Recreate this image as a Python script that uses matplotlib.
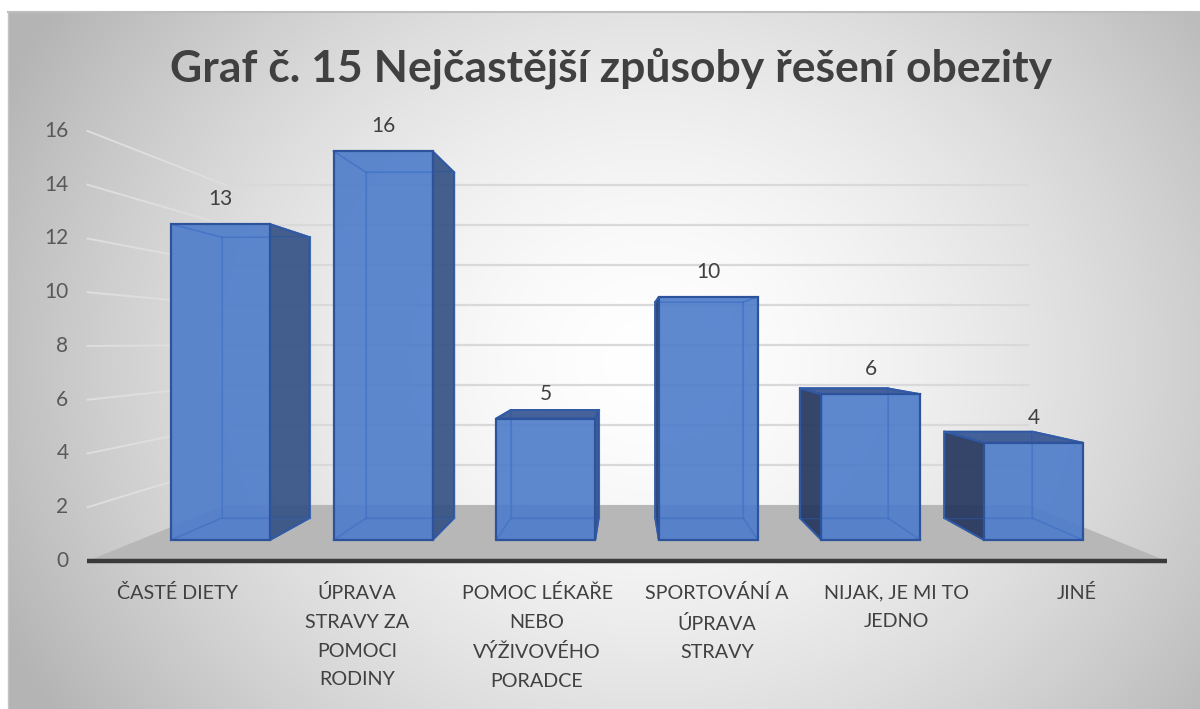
import numpy as np
import matplotlib
matplotlib.use("Agg")
import matplotlib.pyplot as plt
from matplotlib.patches import Polygon

plt.rcParams['font.family'] = ['Lato', 'DejaVu Sans']

# ---------------- data ----------------
title = "Graf č. 15 Nejčastější způsoby řešení obezity"
categories = ["ČASTÉ DIETY",
              "ÚPRAVA\nSTRAVY ZA\nPOMOCI\nRODINY",
              "POMOC LÉKAŘE\nNEBO\nVÝŽIVOVÉHO\nPORADCE",
              "SPORTOVÁNÍ A\nÚPRAVA\nSTRAVY",
              "NIJAK, JE MI TO\nJEDNO",
              "JINÉ"]
values = [13, 16, 5, 10, 6, 4]
y_ticks = [0, 2, 4, 6, 8, 10, 12, 14, 16]

# ---------------- geometry (perspective) ----------------
W, H = 1200, 709
PX0, PXS = 220.5, 162.6      # pixel x of category 0, pixels per category
PY0, PYS = 540.0, 24.3       # pixel y (from top) of value 0, pixels per unit
VX, VY = 2.5, 8.148          # vanishing point in data coords
S_FLOOR = 1.106              # depth scale of floor front edge
S_WALL = 0.823               # depth scale of back wall
S_BF, S_BB = 1.0, 0.889      # bar front / bar back
HW = 0.3044                  # half bar width (category units)


def proj(x, v, s):
    return (VX + (x - VX) * s, VY + (v - VY) * s)


fig = plt.figure(figsize=(W / 100, H / 100), dpi=100)
fig.patch.set_facecolor('white')

# background (radial gradient) for chart area
bx0, by0 = 8, 12
bg = fig.add_axes([bx0 / W, 0, (W - bx0) / W, (H - by0) / H])
yy, xx = np.mgrid[by0:H, bx0:W]
r = np.sqrt(((xx - 650) / 640.0) ** 2 + ((yy - 360) / 560.0) ** 2)
g = 255 - 62 * np.clip(r, 0, 1.3) ** 1.6
g = np.clip(g, 180, 255) / 255.0
bg.imshow(np.dstack([g, g, g]), aspect='auto', extent=(0, 1, 0, 1), origin='upper')
bg.set_xlim(0, 1); bg.set_ylim(0, 1)
bg.axis('off')
bg.plot([0, 1], [1, 1], color='#bdbdbd', lw=1.5, transform=bg.transAxes, clip_on=False)
bg.plot([0, 0], [0, 1], color='#c4c4c4', lw=1.0, transform=bg.transAxes, clip_on=False)

ax = fig.add_axes([0, 0, 1, 1])
ax.set_xlim((0 - PX0) / PXS, (W - PX0) / PXS)
ax.set_ylim((PY0 - H) / PYS, PY0 / PYS)
ax.patch.set_alpha(0)
ax.axis('off')

n = len(values)
xl, xr = -0.5, n - 0.5

# floor
floor = [proj(xl, 0, S_FLOOR), proj(xr, 0, S_FLOOR), proj(xr, 0, S_WALL), proj(xl, 0, S_WALL)]
ax.add_patch(Polygon(floor, closed=True, facecolor='#b7b7b7', edgecolor='none', zorder=1))

# gridlines: back wall and left side wall
for t in y_ticks[1:]:
    p1, p2 = proj(xl, t, S_WALL), proj(xr, t, S_WALL)
    ax.plot([p1[0], p2[0]], [p1[1], p2[1]], color='#d9d9d9', lw=1.6, zorder=2)
    q1 = proj(xl, t, S_FLOOR)
    ax.plot([q1[0], p1[0]], [q1[1], p1[1]], color='#dedede', lw=1.4, zorder=2)

# axis line (floor front edge)
a1, a2 = proj(xl, 0, S_FLOOR), proj(xr, 0, S_FLOOR)
ax.plot([a1[0], a2[0]], [a1[1], a2[1]], color='#3a3a3a', lw=3.2, zorder=3,
        solid_capstyle='butt')

# y tick labels
for t in y_ticks:
    p = proj(xl, t, S_FLOOR)
    ax.annotate(str(t), xy=p, xytext=(-19, 0), textcoords='offset pixels',
                ha='right', va='center', fontsize=15, color='#595959', zorder=5)

# category labels
for i, c in enumerate(categories):
    p = proj(i, 0, S_FLOOR)
    ax.annotate(c, xy=p, xytext=(0, -23), textcoords='offset pixels',
                ha='center', va='top', fontsize=14.2, color='#404040',
                linespacing=1.84, zorder=5)

FRONT = '#4d7cca'
SIDE_R = '#355285'
SIDE_L = '#25375e'
TOP = '#365592'
EDGE = '#2c539c'
INNER = '#3d6cc0'

for i, v in enumerate(values):
    x0, x1 = i - HW, i + HW
    FL0, FR0, FR1, FL1 = proj(x0, 0, S_BF), proj(x1, 0, S_BF), proj(x1, v, S_BF), proj(x0, v, S_BF)
    BL0, BR0, BR1, BL1 = proj(x0, 0, S_BB), proj(x1, 0, S_BB), proj(x1, v, S_BB), proj(x0, v, S_BB)

    # hidden edges (seen through translucent bar)
    hidden = [(BL0, BR0), (BR0, BR1), (BR1, BL1), (BL1, BL0),
              (FL0, BL0), (FR0, BR0), (FL1, BL1), (FR1, BR1)]
    for a, b in hidden:
        ax.plot([a[0], b[0]], [a[1], b[1]], color=INNER, lw=1.2, zorder=6, alpha=0.9)

    left_vis = x0 > VX
    right_vis = x1 < VX
    top_vis = v < VY

    if right_vis:
        ax.add_patch(Polygon([FR0, BR0, BR1, FR1], closed=True, facecolor=SIDE_R, alpha=0.92,
                             edgecolor=EDGE, lw=1.4, zorder=7))
    if left_vis:
        ax.add_patch(Polygon([FL0, BL0, BL1, FL1], closed=True, facecolor=SIDE_L, alpha=0.92,
                             edgecolor=EDGE, lw=1.4, zorder=7))
    if top_vis:
        ax.add_patch(Polygon([FL1, FR1, BR1, BL1], closed=True, facecolor=TOP, alpha=0.92,
                             edgecolor=EDGE, lw=1.4, zorder=7))
    ax.add_patch(Polygon([FL0, FR0, FR1, FL1], closed=True, facecolor=FRONT, alpha=0.9,
                         edgecolor='none', zorder=8))
    for a, b in hidden:
        ax.plot([a[0], b[0]], [a[1], b[1]], color=INNER, lw=1.0, zorder=8.5, alpha=0.35)
    ax.add_patch(Polygon([FL0, FR0, FR1, FL1], closed=True, facecolor='none',
                         edgecolor=EDGE, lw=1.6, zorder=9))

    # data label
    ax.annotate(str(v), xy=proj(i, v, S_BF), xytext=(0, 25), textcoords='offset pixels',
                ha='center', va='center', fontsize=15, color='#404040', zorder=10)

# title
fig.text(611 / W, 1 - 68 / H, title, ha='center', va='center', fontsize=32,
         fontweight='bold', color='#404040')

fig.savefig('out.png', dpi=100)
